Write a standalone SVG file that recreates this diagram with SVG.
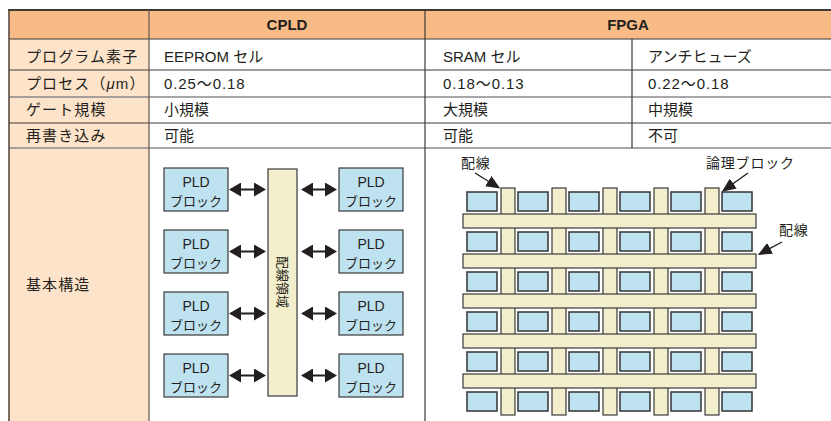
<svg xmlns="http://www.w3.org/2000/svg" xmlns:xlink="http://www.w3.org/1999/xlink" width="831" height="421" viewBox="0 0 831 421">
  <style>
    text { font-family: "Liberation Sans", "Noto Sans CJK JP", sans-serif; fill: #231f20; }
    .hd { font-size: 15px; font-weight: bold; text-anchor: middle; }
    .lb { font-size: 15px; letter-spacing: 1.1px; }
    .cv { font-size: 15px; }
    .num { letter-spacing: 0.9px; }
    .bk { font-size: 13px; text-anchor: middle; }
    .bt { font-size: 14px; text-anchor: middle; }
    .sm { font-size: 14px; letter-spacing: 0.8px; }
    .pld { fill: #bfe2f0; stroke: #3a3a3a; stroke-width: 1.2; }
    .bus { fill: #f3eecb; stroke: #3a3a3a; stroke-width: 1.2; }
    .dk { stroke: #3d3a38; stroke-width: 1.2; fill: none; }
    .gy { stroke: #8a8a8a; stroke-width: 1.6; fill: none; }
    .arr { stroke: #231f20; stroke-width: 2; fill: none; }
    .lead { stroke: #231f20; stroke-width: 1.4; fill: none; }
  </style>
  <defs>
    <marker id="head" viewBox="0 0 12 14" refX="10" refY="7" markerWidth="12" markerHeight="14" markerUnits="userSpaceOnUse" orient="auto-start-reverse" preserveAspectRatio="none">
      <path d="M0,0 L12,7 L0,14 Z" fill="#231f20"/>
    </marker>
    <marker id="tip" viewBox="0 0 14 12" refX="12" refY="6" markerWidth="14" markerHeight="12" markerUnits="userSpaceOnUse" orient="auto" preserveAspectRatio="none">
      <path d="M0,0 L14,6 L0,12 Z" fill="#231f20"/>
    </marker>
    <!-- logic block of the FPGA array: white halo under a dark outline -->
    <g id="cell">
      <rect x="0" y="0" width="30" height="19" fill="none" stroke="#ffffff" stroke-width="4"/>
      <rect x="0" y="0" width="30" height="19" fill="#bfe2f0" stroke="#333333" stroke-width="1.5"/>
    </g>
    <rect id="vbar" x="0" y="0" width="14" height="227" class="bus"/>
    <rect id="hbar" x="0" y="0" width="293" height="14" class="bus"/>
  </defs>

  <!-- table backgrounds -->
  <g id="table">
    <rect x="9" y="10" width="822" height="29" fill="#f9bb86"/>
    <rect x="9" y="39" width="140" height="382" fill="#fde3c9"/>
    <rect x="149" y="39" width="682" height="382" fill="#ffffff"/>
    <!-- grid lines -->
    <line x1="8" y1="10" x2="831" y2="10" stroke="#3d3a38" stroke-width="2"/>
    <line x1="9" y1="39" x2="831" y2="39" class="dk"/>
    <line x1="9" y1="70" x2="831" y2="70" class="dk"/>
    <line x1="9" y1="97" x2="831" y2="97" class="gy"/>
    <line x1="9" y1="123" x2="831" y2="123" class="dk"/>
    <line x1="9" y1="148" x2="831" y2="148" class="gy"/>
    <line x1="9" y1="10" x2="9" y2="421" stroke="#5a4a42" stroke-width="1.6"/>
    <line x1="149" y1="10" x2="149" y2="421" stroke="#6b5d55" stroke-width="1.3"/>
    <line x1="425" y1="10" x2="425" y2="421" class="dk"/>
    <line x1="632" y1="39" x2="632" y2="148" class="dk"/>
  </g>

  <!-- header and cell texts -->
  <g id="texts">
    <text class="hd" x="287" y="30">CPLD</text>
    <text class="hd" x="628" y="30">FPGA</text>

    <text class="lb" x="26" y="62">プログラム素子</text>
    <text class="lb" x="26" y="89">プロセス（<tspan font-style="italic">μ</tspan>m）</text>
    <text class="lb" x="26" y="115">ゲート規模</text>
    <text class="lb" x="26" y="141">再書き込み</text>
    <text class="lb" x="26" y="290">基本構造</text>

    <text class="cv" x="164" y="62">EEPROM セル</text>
    <text class="cv" x="443" y="62">SRAM セル</text>
    <text class="cv" x="648" y="62">アンチヒューズ</text>
    <text class="cv num" x="164" y="89">0.25〜0.18</text>
    <text class="cv num" x="443" y="89">0.18〜0.13</text>
    <text class="cv num" x="648" y="89">0.22〜0.18</text>
    <text class="cv" x="164" y="115">小規模</text>
    <text class="cv" x="443" y="115">大規模</text>
    <text class="cv" x="648" y="115">中規模</text>
    <text class="cv" x="164" y="141">可能</text>
    <text class="cv" x="443" y="141">可能</text>
    <text class="cv" x="648" y="141">不可</text>
  </g>

  <!-- CPLD structure -->
  <g id="cpld-routing">
    <rect x="268" y="169" width="29" height="227" class="bus"/>
    <text class="bk" transform="translate(283,282) rotate(90)" y="5" font-size="13.5">配線領域</text>
  </g>
  <g id="pld-l1"><rect x="164" y="168" width="64" height="43" class="pld"/><text class="bt" x="196" y="187">PLD</text><text class="bk" x="196" y="206">ブロック</text></g>
  <g id="pld-l2"><rect x="164" y="230" width="64" height="43" class="pld"/><text class="bt" x="196" y="249">PLD</text><text class="bk" x="196" y="268">ブロック</text></g>
  <g id="pld-l3"><rect x="164" y="292" width="64" height="43" class="pld"/><text class="bt" x="196" y="311">PLD</text><text class="bk" x="196" y="330">ブロック</text></g>
  <g id="pld-l4"><rect x="164" y="354" width="64" height="43" class="pld"/><text class="bt" x="196" y="373">PLD</text><text class="bk" x="196" y="392">ブロック</text></g>
  <g id="pld-r1"><rect x="339" y="168" width="64" height="43" class="pld"/><text class="bt" x="371" y="187">PLD</text><text class="bk" x="371" y="206">ブロック</text></g>
  <g id="pld-r2"><rect x="339" y="230" width="64" height="43" class="pld"/><text class="bt" x="371" y="249">PLD</text><text class="bk" x="371" y="268">ブロック</text></g>
  <g id="pld-r3"><rect x="339" y="292" width="64" height="43" class="pld"/><text class="bt" x="371" y="311">PLD</text><text class="bk" x="371" y="330">ブロック</text></g>
  <g id="pld-r4"><rect x="339" y="354" width="64" height="43" class="pld"/><text class="bt" x="371" y="373">PLD</text><text class="bk" x="371" y="392">ブロック</text></g>

  <!-- FPGA array: vertical routing under horizontal routing, logic blocks on top -->
  <g id="fpga-vroutes">
    <use xlink:href="#vbar" x="501" y="188"/>
    <use xlink:href="#vbar" x="552" y="188"/>
    <use xlink:href="#vbar" x="603" y="188"/>
    <use xlink:href="#vbar" x="654" y="188"/>
    <use xlink:href="#vbar" x="705" y="188"/>
  </g>
  <g id="fpga-hroutes">
    <use xlink:href="#hbar" x="463" y="214"/>
    <use xlink:href="#hbar" x="463" y="254"/>
    <use xlink:href="#hbar" x="463" y="294"/>
    <use xlink:href="#hbar" x="463" y="334"/>
    <use xlink:href="#hbar" x="463" y="374"/>
  </g>
  <g id="fpga-cells">
    <use xlink:href="#cell" x="467" y="192"/><use xlink:href="#cell" x="518" y="192"/><use xlink:href="#cell" x="569" y="192"/><use xlink:href="#cell" x="620" y="192"/><use xlink:href="#cell" x="671" y="192"/><use xlink:href="#cell" x="722" y="192"/>
    <use xlink:href="#cell" x="467" y="232"/><use xlink:href="#cell" x="518" y="232"/><use xlink:href="#cell" x="569" y="232"/><use xlink:href="#cell" x="620" y="232"/><use xlink:href="#cell" x="671" y="232"/><use xlink:href="#cell" x="722" y="232"/>
    <use xlink:href="#cell" x="467" y="272"/><use xlink:href="#cell" x="518" y="272"/><use xlink:href="#cell" x="569" y="272"/><use xlink:href="#cell" x="620" y="272"/><use xlink:href="#cell" x="671" y="272"/><use xlink:href="#cell" x="722" y="272"/>
    <use xlink:href="#cell" x="467" y="312"/><use xlink:href="#cell" x="518" y="312"/><use xlink:href="#cell" x="569" y="312"/><use xlink:href="#cell" x="620" y="312"/><use xlink:href="#cell" x="671" y="312"/><use xlink:href="#cell" x="722" y="312"/>
    <use xlink:href="#cell" x="467" y="352"/><use xlink:href="#cell" x="518" y="352"/><use xlink:href="#cell" x="569" y="352"/><use xlink:href="#cell" x="620" y="352"/><use xlink:href="#cell" x="671" y="352"/><use xlink:href="#cell" x="722" y="352"/>
    <use xlink:href="#cell" x="467" y="392"/><use xlink:href="#cell" x="518" y="392"/><use xlink:href="#cell" x="569" y="392"/><use xlink:href="#cell" x="620" y="392"/><use xlink:href="#cell" x="671" y="392"/><use xlink:href="#cell" x="722" y="392"/>
  </g>
  <g id="fpga-labels">
    <text class="sm" x="461" y="168">配線</text>
    <text class="sm" x="706" y="168">論理ブロック</text>
    <text class="sm" x="779" y="235">配線</text>
  </g>

  <!-- connectors -->
  <g id="connectors">
    <line x1="231" y1="189.5" x2="264" y2="189.5" class="arr" marker-start="url(#head)" marker-end="url(#head)"/>
    <line x1="231" y1="251.5" x2="264" y2="251.5" class="arr" marker-start="url(#head)" marker-end="url(#head)"/>
    <line x1="231" y1="313.5" x2="264" y2="313.5" class="arr" marker-start="url(#head)" marker-end="url(#head)"/>
    <line x1="231" y1="375.5" x2="264" y2="375.5" class="arr" marker-start="url(#head)" marker-end="url(#head)"/>
    <line x1="303" y1="189.5" x2="335" y2="189.5" class="arr" marker-start="url(#head)" marker-end="url(#head)"/>
    <line x1="303" y1="251.5" x2="335" y2="251.5" class="arr" marker-start="url(#head)" marker-end="url(#head)"/>
    <line x1="303" y1="313.5" x2="335" y2="313.5" class="arr" marker-start="url(#head)" marker-end="url(#head)"/>
    <line x1="303" y1="375.5" x2="335" y2="375.5" class="arr" marker-start="url(#head)" marker-end="url(#head)"/>
    <line x1="475" y1="173" x2="498.5" y2="187.5" class="lead" marker-end="url(#tip)"/>
    <line x1="748" y1="173" x2="723.5" y2="190.5" class="lead" marker-end="url(#tip)"/>
    <line x1="782" y1="242" x2="759.5" y2="254" class="lead" marker-end="url(#tip)"/>
  </g>
</svg>
